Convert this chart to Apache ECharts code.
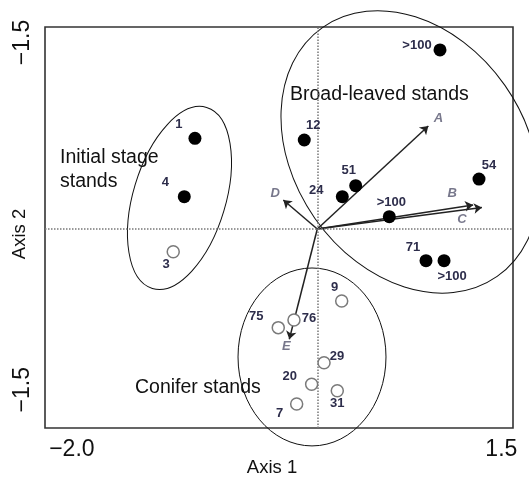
<!DOCTYPE html>
<html><head><meta charset="utf-8">
<script src="https://cdn.jsdelivr.net/npm/echarts@6/dist/echarts.min.js"></script>
<style>html,body{margin:0;padding:0;background:#fff}#c{width:529px;height:479px}</style>
</head><body><div id="c"></div>
<script>
// ---- data ----
const filledNames = ['1', '4', '>100', '12', '51', '24', '>100', '54', '71', '>100'];
const filledAxis1 = [-0.997, -1.084, 1.000, -0.106, 0.313, 0.204, 0.587, 1.318, 0.886, 1.033];
const filledAxis2 = [0.739, 0.263, 1.459, 0.725, 0.353, 0.263, 0.100, 0.407, -0.258, -0.258];

const openNames = ['3', '9', '76', '75', '29', '20', '31', '7'];
const openAxis1 = [-1.174, 0.199, -0.190, -0.318, 0.055, -0.046, 0.163, -0.168];
const openAxis2 = [-0.185, -0.587, -0.742, -0.804, -1.090, -1.266, -1.318, -1.426];

const vectorNames = ['A', 'B', 'C', 'D', 'E'];
const vectorAxis1 = [0.905, 1.270, 1.342, -0.277, -0.228];
const vectorAxis2 = [0.839, 0.195, 0.175, 0.236, -0.899];

// group ellipses: centre, half-width, half-height (axis units), tilt in degrees
const groupNames = ['Initial stage\nstands', 'Broad-leaved stands', 'Conifer stands'];
const ellipseAxis1 = [-1.123, 0.755, -0.043];
const ellipseAxis2 = [0.253, 0.628, -1.043];
const ellipseHalfW = [0.377, 0.945, 0.603];
const ellipseHalfH = [0.770, 1.239, 0.725];
const ellipseTilt = [-16.7, 35, 0];

const xTickValues = [-2.0, 1.5];
const xTickLabels = ['\u22122.0', '1.5'];
const yTickValues = [-1.31, 1.52];
const yTickLabels = ['\u22121.5', '\u22121.5'];

// ---- label placement (pixels) ----
const filledLabelOffsets = [[-16,-14],[-19,-14],[-23,-5],[9,-15],[-7,-15],[-26,-6],[2,-14],[10,-14],[-13,-13],[8,16]];
const openLabelOffsets = [[-7,13],[-7,-14],[15,-2],[-22,-11],[13,-6],[-22,-8],[0,13],[-17,9]];
const vectorLabelOffsets = [[10,-8],[-21,-12],[-20,12],[-8,-7],[-3,7]];

const FONT = '"Liberation Sans", Arial, sans-serif';
const labelStyle = {show: true, position: 'inside', fontSize: 13, fontWeight: 'bold', color: '#2d2d4b', fontFamily: FONT};

const chart = echarts.init(document.getElementById('c'));
chart.setOption({
  animation: false,
  backgroundColor: '#fff',
  grid: {left: 45, top: 27, width: 468, height: 401, show: true, borderColor: '#333', borderWidth: 1.6,
         backgroundColor: 'transparent', containLabel: false, outerBoundsMode: 'none'},
  xAxis: {
    type: 'value', min: -2.219, max: 1.595,
    name: 'Axis 1', nameLocation: 'middle', nameGap: 30, nameMoveOverlap: false,
    nameTextStyle: {fontSize: 18.5, color: '#111', fontFamily: FONT, padding: [0, 14, 0, 0]},
    axisLine: {show: false}, axisTick: {show: false}, splitLine: {show: false},
    axisLabel: {customValues: xTickValues, fontSize: 23, color: '#111', fontFamily: FONT, margin: 10,
      formatter: v => xTickLabels[xTickValues.findIndex(t => Math.abs(t - v) < 1e-6)]}
  },
  yAxis: {
    type: 'value', min: -1.622, max: 1.646,
    name: 'Axis 2', nameLocation: 'middle', nameGap: 16, nameMoveOverlap: false,
    nameTextStyle: {fontSize: 18.5, color: '#111', fontFamily: FONT, padding: [0, 13, 0, 0]},
    axisLine: {show: false}, axisTick: {show: false}, splitLine: {show: false},
    axisLabel: {customValues: yTickValues, rotate: 90, fontSize: 23, color: '#111', fontFamily: FONT, margin: 11,
      formatter: v => yTickLabels[yTickValues.findIndex(t => Math.abs(t - v) < 1e-6)]}
  },
  graphic: [
    {type: 'text', x: 60, y: 169.8, style: {text: groupNames[0], font: '19.5px ' + FONT, fill: '#111', verticalAlign: 'middle', lineHeight: 23.5}},
    {type: 'text', x: 290, y: 95, style: {text: groupNames[1], font: '19.5px ' + FONT, fill: '#111', verticalAlign: 'middle'}},
    {type: 'text', x: 135, y: 388, style: {text: groupNames[2], font: '19.5px ' + FONT, fill: '#111', verticalAlign: 'middle'}}
  ],
  series: [
    {
      type: 'custom', silent: true, clip: false, z: 3,
      data: ellipseAxis1.map((x, i) => [x, ellipseAxis2[i], ellipseHalfW[i], ellipseHalfH[i], ellipseTilt[i]]),
      encode: {x: 0, y: 1},
      renderItem: (params, api) => {
        const c = api.coord([api.value(0), api.value(1)]);
        const s = api.size([api.value(2), api.value(3)]);
        return {type: 'ellipse', x: c[0], y: c[1], rotation: api.value(4) * Math.PI / 180,
          shape: {cx: 0, cy: 0, rx: s[0], ry: s[1]},
          style: {fill: 'none', stroke: '#111', lineWidth: 1}};
      }
    },
    {
      type: 'lines', coordinateSystem: 'cartesian2d', silent: true, z: 4,
      symbol: ['none', 'arrow'], symbolSize: [0, 8],
      lineStyle: {color: '#222', width: 1.5, opacity: 1},
      data: vectorNames.map((n, i) => ({coords: [[0, 0], [vectorAxis1[i], vectorAxis2[i]]]}))
    },
    {
      type: 'scatter', silent: true, z: 5, symbolSize: 0,
      data: vectorNames.map((n, i) => ({name: n, value: [vectorAxis1[i], vectorAxis2[i]],
        label: {offset: vectorLabelOffsets[i]}})),
      label: {show: true, position: 'inside', formatter: '{b}', fontSize: 13, fontStyle: 'italic', fontWeight: 'bold', color: '#55556e', fontFamily: FONT}
    },
    {
      type: 'scatter', silent: true, z: 6, symbol: 'circle', symbolSize: 13,
      itemStyle: {color: '#000', opacity: 1},
      data: filledNames.map((n, i) => ({name: n, value: [filledAxis1[i], filledAxis2[i]],
        label: {offset: filledLabelOffsets[i]}})),
      label: Object.assign({formatter: '{b}'}, labelStyle),
      markLine: {silent: true, symbol: ['none', 'none'], label: {show: false},
        lineStyle: {type: 'dotted', color: '#777', width: 1.5},
        data: [{xAxis: 0}, {yAxis: 0}]}
    },
    {
      type: 'scatter', silent: true, z: 6, symbol: 'circle', symbolSize: 12,
      itemStyle: {color: '#fff', borderColor: '#7a7a7a', borderWidth: 1.5, opacity: 1},
      data: openNames.map((n, i) => ({name: n, value: [openAxis1[i], openAxis2[i]],
        label: {offset: openLabelOffsets[i]}})),
      label: Object.assign({formatter: '{b}'}, labelStyle)
    }
  ]
});
</script></body></html>
